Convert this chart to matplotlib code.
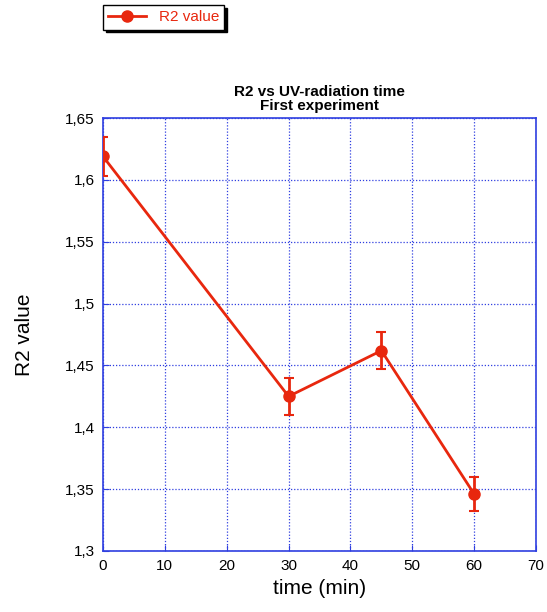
import matplotlib
matplotlib.use("Agg")
import matplotlib.pyplot as plt
from matplotlib.lines import Line2D
from matplotlib.ticker import FuncFormatter, MultipleLocator

plt.rcParams['font.family'] = ['Liberation Sans', 'DejaVu Sans']

time_min = [0, 30, 45, 60]
r2_value = [1.619, 1.425, 1.462, 1.346]
r2_error = [0.016, 0.015, 0.015, 0.014]

red = '#e8270e'
blue = '#2f3fe0'

fig = plt.figure(figsize=(5.47, 6.12), dpi=100)
ax = fig.add_axes([0.1883, 0.0997, 0.7917, 0.7073])

ax.errorbar(time_min, r2_value, yerr=r2_error, color=red, lw=2,
            marker='o', markersize=8, capsize=3.5, elinewidth=2,
            capthick=1.5, zorder=3)

ax.set_xlim(0, 70)
ax.set_ylim(1.3, 1.65)
ax.xaxis.set_major_locator(MultipleLocator(10))
ax.yaxis.set_major_locator(MultipleLocator(0.05))

def comma_fmt(v, pos):
    s = f"{v:.2f}".rstrip('0').rstrip('.')
    return s.replace('.', ',')

ax.yaxis.set_major_formatter(FuncFormatter(comma_fmt))
ax.xaxis.set_major_formatter(FuncFormatter(lambda v, p: f"{int(round(v))}"))

ax.grid(True, color=blue, linestyle=(0, (1, 1.5)), linewidth=0.9)
for s in ax.spines.values():
    s.set_color(blue)
    s.set_linewidth(1.2)
ax.tick_params(direction='in', color=blue, length=4, labelsize=11, pad=6)

ax.set_xlabel('time (min)', fontsize=15)
ax.set_ylabel('R2 value', fontsize=15, labelpad=22)
ax.set_title('R2 vs UV-radiation time\nFirst experiment', fontsize=11,
             fontweight='bold', linespacing=1.0, pad=6)

handle = Line2D([], [], color=red, lw=2, marker='o', markersize=8)
leg = fig.legend([handle], ['R2 value'], loc='upper left',
                 bbox_to_anchor=(0.188, 0.992), borderaxespad=0,
                 frameon=True, fancybox=False,
                 shadow={'color': 'black', 'alpha': 1.0},
                 fontsize=11, handlelength=2.5, borderpad=0.35,
                 labelcolor=red)
leg.get_frame().set_edgecolor('black')
leg.get_frame().set_linewidth(1.0)

fig.savefig('out.png', dpi=100)
